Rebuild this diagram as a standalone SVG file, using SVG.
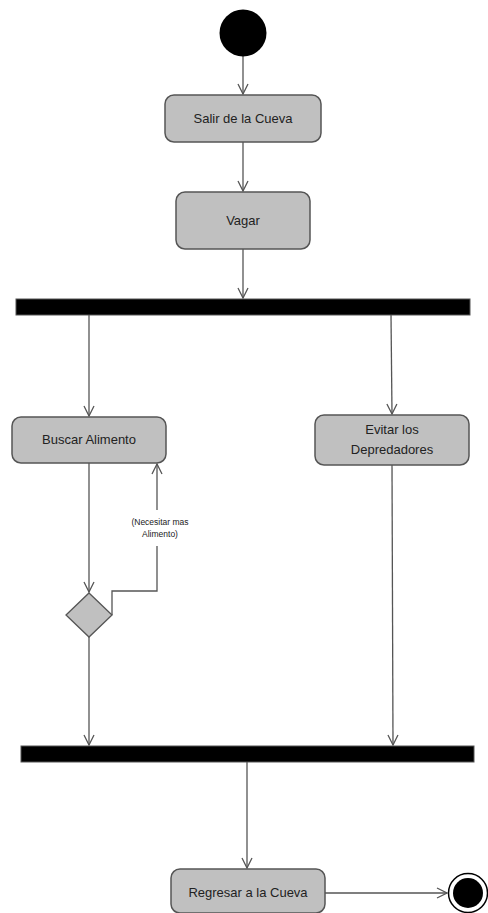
<svg xmlns="http://www.w3.org/2000/svg" width="488" height="913" viewBox="0 0 488 913">
  <style>
    .act { fill: #c0c0c0; stroke: #555; stroke-width: 1.5; }
    .bar { fill: #000; stroke: #555; stroke-width: 1; }
    .lbl { font-family: "Liberation Sans", Arial, sans-serif; font-size: 13px; fill: #222; text-anchor: middle; }
    .small { font-family: "Liberation Sans", Arial, sans-serif; font-size: 8.5px; fill: #222; text-anchor: middle; }
    .edge { fill: none; stroke: #555; stroke-width: 1.3; }
  </style>
  <defs>
    <marker id="open" viewBox="0 0 12 12" refX="11" refY="6" markerWidth="12" markerHeight="12" markerUnits="userSpaceOnUse" orient="auto">
      <path d="M1,1 L11,6 L1,11" fill="none" stroke="#555" stroke-width="1.3"/>
    </marker>
  </defs>

  <rect width="488" height="913" fill="#fff"/>

  <g id="connectors">
    <line class="edge" x1="243" y1="56" x2="243" y2="94" marker-end="url(#open)"/>
    <line class="edge" x1="243" y1="142" x2="243" y2="191" marker-end="url(#open)"/>
    <line class="edge" x1="243" y1="249" x2="243" y2="298" marker-end="url(#open)"/>
    <line class="edge" x1="89" y1="315" x2="89" y2="416" marker-end="url(#open)"/>
    <line class="edge" x1="391" y1="315" x2="392" y2="414" marker-end="url(#open)"/>
    <line class="edge" x1="89" y1="463" x2="89" y2="592" marker-end="url(#open)"/>
    <polyline class="edge" points="112,615 112,591 157,591 157,546"/>
    <line class="edge" x1="157" y1="510" x2="157" y2="464" marker-end="url(#open)"/>
    <text class="small" x="160" y="525">(Necesitar mas</text>
    <text class="small" x="160" y="537">Alimento)</text>
    <line class="edge" x1="89" y1="637" x2="89" y2="745" marker-end="url(#open)"/>
    <line class="edge" x1="392" y1="465" x2="393" y2="745" marker-end="url(#open)"/>
    <line class="edge" x1="247" y1="762" x2="247" y2="868" marker-end="url(#open)"/>
    <line class="edge" x1="325" y1="893" x2="447" y2="893" marker-end="url(#open)"/>
  </g>

  <g id="start">
    <circle cx="243" cy="33" r="23.5" fill="#000"/>
  </g>

  <g id="salir">
    <rect class="act" x="165" y="95" width="156" height="47" rx="9"/>
    <text class="lbl" x="243" y="123">Salir de la Cueva</text>
  </g>

  <g id="vagar">
    <rect class="act" x="176" y="192" width="134" height="57" rx="9"/>
    <text class="lbl" x="243" y="225">Vagar</text>
  </g>

  <g id="fork">
    <rect class="bar" x="16" y="299" width="454" height="16"/>
  </g>

  <g id="buscar">
    <rect class="act" x="12" y="417" width="154" height="46" rx="9"/>
    <text class="lbl" x="89" y="444">Buscar Alimento</text>
  </g>

  <g id="evitar">
    <rect class="act" x="315" y="415" width="154" height="50" rx="9"/>
    <text class="lbl" x="392" y="434">Evitar los</text>
    <text class="lbl" x="392" y="454">Depredadores</text>
  </g>

  <g id="decision">
    <polygon points="89,593 112,615 89,637 66,615" fill="#c0c0c0" stroke="#555" stroke-width="1.3"/>
  </g>

  <g id="join">
    <rect class="bar" x="21" y="746" width="453" height="16"/>
  </g>

  <g id="regresar">
    <rect class="act" x="171" y="869" width="154" height="44" rx="9"/>
    <text class="lbl" x="248" y="897">Regresar a la Cueva</text>
  </g>

  <g id="end">
    <circle cx="468" cy="893" r="19.5" fill="#fff" stroke="#000" stroke-width="1.5"/>
    <circle cx="468" cy="893" r="15" fill="#000"/>
  </g>
</svg>
